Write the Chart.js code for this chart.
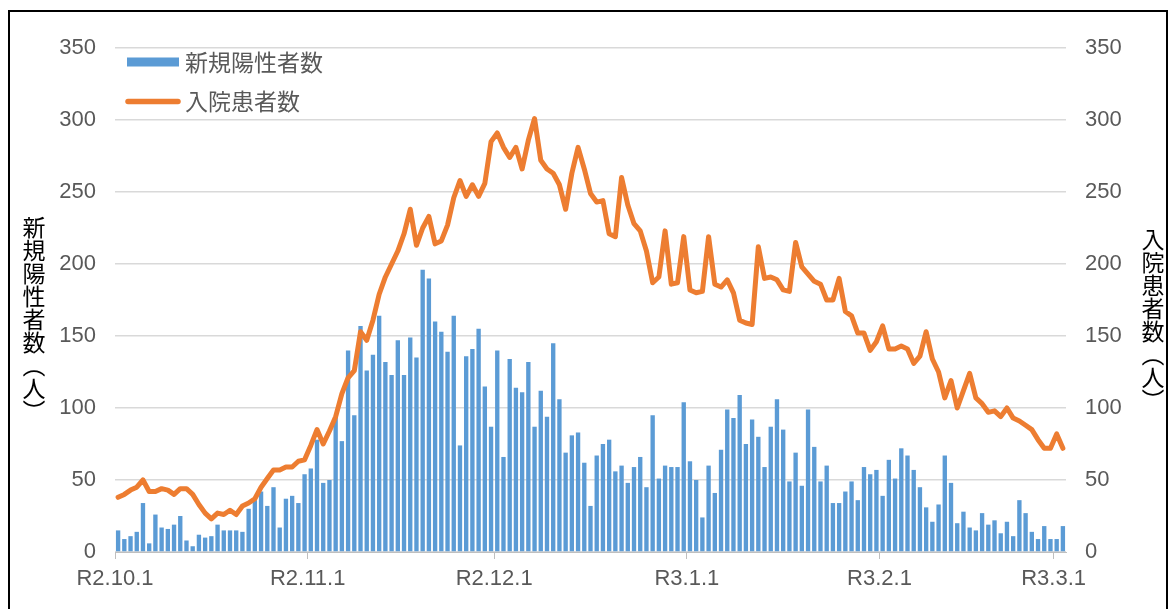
<!DOCTYPE html>
<html lang="ja">
<head>
<meta charset="utf-8">
<title>新規陽性者数・入院患者数</title>
<script src="https://cdn.jsdelivr.net/npm/chart.js@4.4.1/dist/chart.umd.min.js"></script>
<style>
  html, body { margin: 0; padding: 0; background: #fff; overflow: hidden; }
  #wrap { position: relative; width: 1171px; height: 609px; }
  #frame { position: absolute; left: 8px; top: 10px; width: 1156px; height: 700px; border: 2px solid #000; pointer-events: none; }
  .vtitle { position: absolute; writing-mode: vertical-rl; font-family: "Noto Sans CJK JP", sans-serif; font-size: 23px; line-height: 23px; color: #000; }
</style>
</head>
<body>
<div id="wrap">
  <canvas id="grafico" width="1171" height="609"></canvas>
  <div id="frame"></div>
  <div class="vtitle" style="left:22px; top:216px;">新規陽性者数（人）</div>
  <div class="vtitle" style="left:1141px; top:228px;">入院患者数（人）</div>
</div>
<script>
// ticks del eje X: dias desde R2.10.1 donde empieza cada mes
const tickDays = [0, 31, 61, 92, 123, 151];
const tickLabels = ['R2.10.1', 'R2.11.1', 'R2.12.1', 'R3.1.1', 'R3.2.1', 'R3.3.1'];

// 新規陽性者数 (R2.10.1 - R3.3.2)
const newCases = [
  15, 9, 11, 14, 34, 6, 26, 17, 16, 19,
  25, 8, 4, 12, 10, 11, 19, 15, 15, 15,
  14, 30, 36, 42, 32, 45, 17, 37, 39, 34,
  54, 58, 78, 48, 50, 94, 77, 140, 95, 157,
  126, 137, 164, 132, 123, 147, 123, 149, 135, 196,
  190, 160, 153, 139, 164, 74, 136, 141, 155, 115,
  87, 140, 66, 134, 114, 111, 132, 87, 112, 94,
  145, 106, 69, 81, 83, 62, 32, 67, 75, 78,
  56, 60, 48, 59, 66, 45, 95, 51, 60, 59,
  59, 104, 63, 50, 24, 60, 41, 71, 99, 93,
  109, 75, 92, 80, 59, 87, 106, 85, 49, 69,
  46, 99, 73, 49, 60, 34, 34, 42, 49, 36,
  59, 54, 57, 39, 64, 51, 72, 67, 57, 45,
  31, 21, 33, 67, 48, 20, 28, 17, 15, 27,
  19, 22, 13, 21, 11, 36, 27, 14, 9, 18,
  9, 9, 18
];

// 入院患者数
const inpatients = [
  38, 40, 43, 45, 50, 42, 42, 44, 43, 40,
  44, 44, 40, 33, 27, 23, 27, 26, 29, 26,
  32, 34, 37, 45, 51, 57, 57, 59, 59, 63,
  64, 74, 85, 75, 84, 94, 110, 121, 126, 153,
  147, 161, 179, 191, 200, 209, 221, 238, 213, 225,
  233, 214, 216, 227, 246, 258, 247, 255, 247, 256,
  285, 291, 281, 274, 281, 266, 286, 301, 272, 266,
  263, 255, 238, 263, 281, 266, 249, 243, 244, 221,
  219, 260, 241, 228, 223, 209, 187, 191, 223, 186,
  187, 219, 182, 180, 181, 219, 186, 184, 189, 180,
  161, 159, 158, 212, 190, 191, 189, 182, 181, 215,
  198, 193, 188, 186, 175, 175, 190, 167, 164, 152,
  152, 140, 146, 157, 141, 141, 143, 141, 131, 136,
  153, 134, 125, 107, 119, 100, 112, 124, 107, 103,
  97, 98, 94, 100, 93, 91, 88, 85, 78, 72,
  72, 82, 72
];

const tickFont = { family: '"Liberation Sans", "Noto Sans CJK JP", sans-serif', size: 22 };
const textColor = '#595959';

// leyenda dentro del area del grafico
const leyendaPlugin = {
  id: 'leyenda',
  afterDraw(chart) {
    const ctx = chart.ctx;
    const area = chart.chartArea;
    ctx.save();
    ctx.font = '23px "Noto Sans CJK JP", sans-serif';
    ctx.textBaseline = 'middle';
    chart.data.datasets.forEach((ds, i) => {
      const y = area.top + 14 + i * 39.5;
      const x = area.left + 12;
      if (ds.type === 'line') {
        ctx.strokeStyle = ds.borderColor;
        ctx.lineWidth = 5.5;
        ctx.lineCap = 'round';
        ctx.beginPath();
        ctx.moveTo(x + 1, y);
        ctx.lineTo(x + 51, y);
        ctx.stroke();
      } else {
        ctx.fillStyle = ds.backgroundColor;
        ctx.fillRect(x, y - 4.5, 52, 9);
      }
      ctx.fillStyle = textColor;
      ctx.fillText(ds.label, area.left + 70, y);
    });
    ctx.restore();
  }
};

new Chart(document.getElementById('grafico'), {
  type: 'bar',
  data: {
    datasets: [
      {
        type: 'bar',
        label: '新規陽性者数',
        data: newCases.map((v, i) => ({ x: i, y: v })),
        backgroundColor: '#5B9BD5',
        borderWidth: 0,
        barPercentage: 0.7,
        categoryPercentage: 1,
        yAxisID: 'y',
        order: 1
      },
      {
        type: 'line',
        label: '入院患者数',
        data: inpatients.map((v, i) => ({ x: i, y: v })),
        borderColor: '#ED7D31',
        backgroundColor: '#ED7D31',
        borderWidth: 5,
        pointRadius: 0,
        tension: 0,
        borderJoinStyle: 'round',
        borderCapStyle: 'round',
        yAxisID: 'y1',
        order: 0
      }
    ]
  },
  options: {
    responsive: false,
    animation: false,
    layout: { padding: { top: 48, left: 0, right: 0, bottom: 0 } },
    plugins: {
      legend: { display: false },
      tooltip: { enabled: false }
    },
    scales: {
      x: {
        type: 'linear',
        min: -0.5,
        max: 152.5,
        offset: false,
        afterBuildTicks: s => { s.ticks = tickDays.map(d => ({ value: d - 0.5 })); },
        afterFit: s => { s.height = 57; },
        ticks: {
          autoSkip: false,
          maxRotation: 0,
          padding: 7,
          color: textColor,
          font: tickFont,
          callback: (v, i) => tickLabels[i]
        },
        grid: { offset: false, drawOnChartArea: false, drawTicks: true, tickLength: 7, color: '#BFBFBF' },
        border: { color: '#BFBFBF' }
      },
      y: {
        position: 'left',
        min: 0,
        max: 350,
        afterFit: s => { s.width = 115; },
        ticks: { stepSize: 50, padding: 19, color: textColor, font: tickFont },
        grid: { color: '#D9D9D9', lineWidth: 1.5, drawTicks: false },
        border: { display: false }
      },
      y1: {
        position: 'right',
        min: 0,
        max: 350,
        afterFit: s => { s.width = 105; },
        ticks: { stepSize: 50, padding: 19, color: textColor, font: tickFont },
        grid: { drawOnChartArea: false, drawTicks: false },
        border: { display: false }
      }
    }
  },
  plugins: [leyendaPlugin]
});
</script>
</body>
</html>
